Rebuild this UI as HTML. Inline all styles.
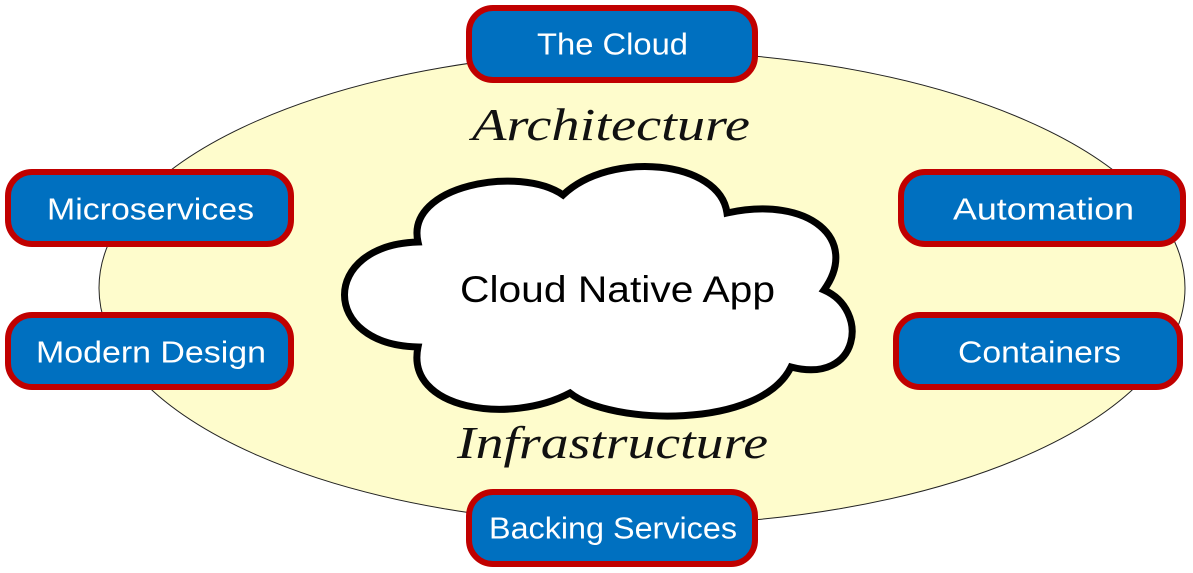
<!DOCTYPE html>
<html><head><meta charset="utf-8"><style>
html,body{margin:0;padding:0;background:#fff;}
svg{display:block}
.bt{font-family:"Liberation Sans",sans-serif;font-size:31px;fill:#fff;dominant-baseline:central}
.sc{font-family:"Liberation Serif",serif;font-style:italic;font-size:46px;fill:#111}
</style></head><body>
<svg width="1193" height="573" viewBox="0 0 1193 573" xmlns="http://www.w3.org/2000/svg">
<ellipse cx="642" cy="288" rx="543" ry="237" fill="#fefccc" stroke="#222" stroke-width="1"/>
<path d="M418,242 C405,185 520,165 563,195 C610,150 720,160 727,213 C810,195 860,240 824,290 C870,310 860,385 791,367 C760,430 610,425 570,393 C510,425 405,410 418,347 C320,345 320,245 418,242 Z" fill="#fff" stroke="#000" stroke-width="7"/>
<text x="460" y="302" font-family="Liberation Sans,sans-serif" font-size="37" fill="#000" textLength="315" lengthAdjust="spacingAndGlyphs">Cloud Native App</text>
<text class="sc" x="472" y="140" textLength="278" lengthAdjust="spacingAndGlyphs">Architecture</text>
<text class="sc" x="457" y="458" textLength="311" lengthAdjust="spacingAndGlyphs">Infrastructure</text>
<g fill="#0070c0" stroke="#c00000" stroke-width="6">
<rect x="469" y="8" width="286" height="72" rx="24"/>
<rect x="8" y="172" width="283" height="72" rx="24"/>
<rect x="8" y="315" width="283" height="72" rx="24"/>
<rect x="901" y="172" width="282" height="72" rx="24"/>
<rect x="896" y="315" width="284" height="72" rx="24"/>
<rect x="469" y="492" width="286" height="72" rx="24"/>
</g>
<text class="bt" x="537" y="44" textLength="151" lengthAdjust="spacingAndGlyphs">The Cloud</text>
<text class="bt" x="47" y="209" textLength="207" lengthAdjust="spacingAndGlyphs">Microservices</text>
<text class="bt" x="36" y="352" textLength="230" lengthAdjust="spacingAndGlyphs">Modern Design</text>
<text class="bt" x="953" y="209" textLength="181" lengthAdjust="spacingAndGlyphs">Automation</text>
<text class="bt" x="958" y="352" textLength="163" lengthAdjust="spacingAndGlyphs">Containers</text>
<text class="bt" x="489" y="528" textLength="248" lengthAdjust="spacingAndGlyphs">Backing Services</text>
</svg>
</body></html>
